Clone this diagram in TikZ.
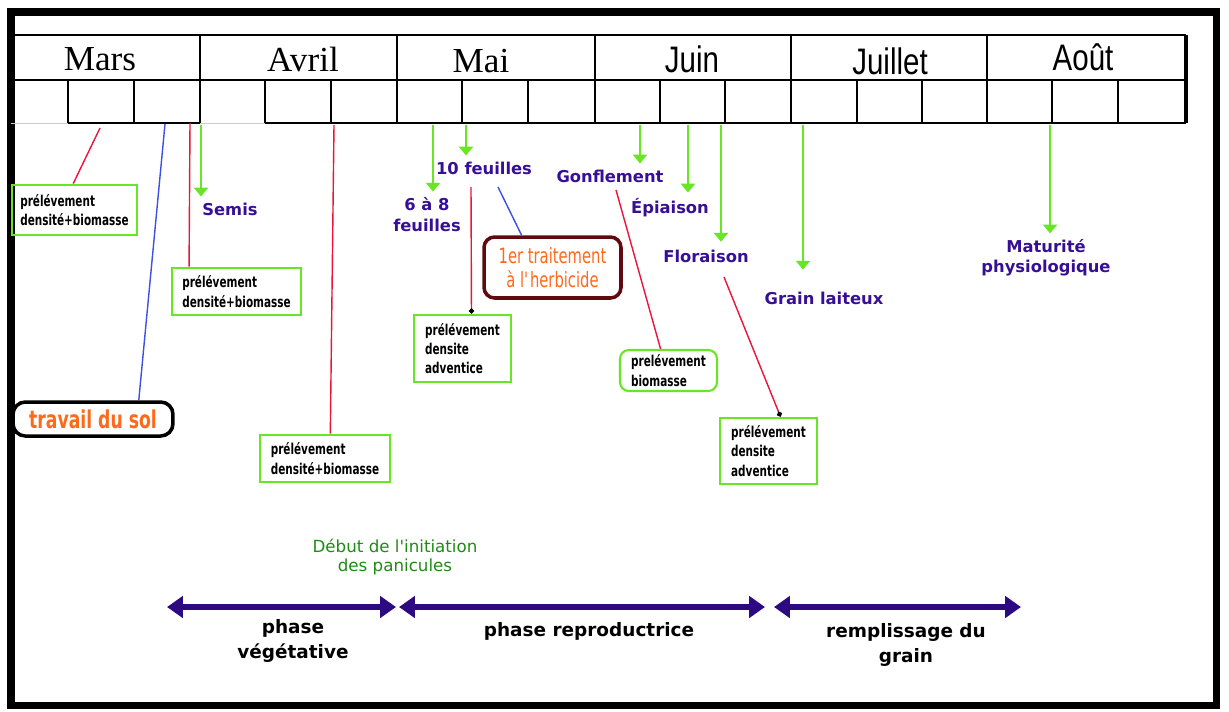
\documentclass[tikz,border=0pt]{standalone}
\usepackage{fontspec}
\setmainfont{DejaVu Sans}
\newfontfamily\serifmonth{Liberation Serif}
\newfontfamily\sansmonth{Liberation Sans}[FakeStretch=0.8]
\newfontfamily\boxfont{DejaVu Sans}[FakeStretch=0.7]
\usepackage{tikz}
\usetikzlibrary{arrows.meta,calc}

\definecolor{stagecol}{RGB}{55,15,150}
\definecolor{stemgreen}{RGB}{105,230,35}
\definecolor{linkred}{RGB}{235,20,60}
\definecolor{linkblue}{RGB}{60,80,230}
\definecolor{herbi}{RGB}{255,105,25}
\definecolor{herbiframe}{RGB}{95,10,15}
\definecolor{phasecol}{RGB}{45,10,130}
\definecolor{pangreen}{RGB}{30,140,20}

\tikzset{
  monthserif/.style={font=\serifmonth\fontsize{20}{24}\selectfont},
  monthsans/.style={font=\sansmonth\fontsize{21}{25}\selectfont},
  stage/.style={text=stagecol,font=\bfseries\fontsize{9.3}{11.5}\selectfont,align=center},
  stem/.style={draw=stemgreen,line width=1.1pt,-{Triangle[length=5pt,width=8pt]}},
  pbox/.style={draw=stemgreen,line width=1.6pt,align=left,inner sep=2pt,
    font=\boxfont\bfseries\fontsize{8.5}{11}\selectfont},
  redlink/.style={draw=linkred,line width=0.8pt},
  bluelink/.style={draw=linkblue,line width=0.8pt},
  phase/.style={draw=phasecol,line width=3.2pt,
    {Triangle[length=9pt,width=12pt]}-{Triangle[length=9pt,width=12pt]}},
  phaselbl/.style={font=\bfseries\fontsize{10.5}{14.5}\selectfont,align=center}
}

\begin{document}
\begin{tikzpicture}[x=0.02cm,y=-0.02cm,>=Stealth]
  \useasboundingbox (0,0) rectangle (1229,711);
  \draw[line width=4pt] (11,12) rectangle (1216,705);

  \draw[line width=1.6pt] (11,35) -- (1186,35);
  \draw[line width=1.1pt] (11,80) -- (1186,80);
  \draw[line width=1.1pt] (68,123) -- (200,123) (265,123) -- (1186,123);
  \draw[gray!40,line width=0.5pt] (11,123) -- (68,123) (200,123) -- (265,123);
  \foreach \x in {200,397,595,791,987}
    \draw[line width=1.1pt] (\x,35) -- (\x,123);
  \draw[line width=2.2pt] (1186,35) -- (1186,123);
  \foreach \x in {68,134,265,331,462,528,660,725,857,922,1052,1118}
    \draw[line width=1.1pt] (\x,80) -- (\x,123);

  \node[monthserif] (mars) at (100,59) {Mars};
  \node[monthserif] (avril) at (303,59) {Avril};
  \node[monthserif] (mai) at (481,61) {Mai};
  \node[monthsans] (juin) at (692,59) {Juin};
  \node[monthsans] (juillet) at (890,61) {Juillet};
  \node[monthsans] (aout) at (1083,57) {Août};

  \node[stage] (semis) at (230,209) {Semis};
  \node[stage,font=\bfseries\fontsize{9.3}{12}\selectfont] (sixhuit) at (427,215) {6 à 8\\feuilles};
  \node[stage] (dixf) at (484,168) {10 feuilles};
  \node[stage] (gonfl) at (610,176) {Gonflement};
  \node[stage] (epiai) at (670,208) {Épiaison};
  \node[stage] (flor) at (706,256) {Floraison};
  \node[stage] (grain) at (824,298) {Grain laiteux};
  \node[stage] (matur) at (1046,258) {Maturité\\physiologique};

  \coordinate (s1) at (201,125);
  \coordinate (s2) at (433,125);
  \coordinate (s3) at (466,125);
  \coordinate (s4) at (640,125);
  \coordinate (s5) at (688,125);
  \coordinate (s6) at (721,125);
  \coordinate (s7) at (803,125);
  \coordinate (s8) at (1050,125);
  \draw[stem] (s1) -- (s1 |- semis.north);
  \draw[stem] (s2) -- (s2 |- sixhuit.north);
  \draw[stem] (s3) -- (s3 |- dixf.north);
  \draw[stem] (s4) -- (s4 |- gonfl.north);
  \draw[stem] (s5) -- (s5 |- epiai.north);
  \draw[stem,shorten >=1pt] (s6) -- (s6 |- flor.north);
  \draw[stem,shorten >=9pt] (s7) -- (s7 |- grain.north);
  \draw[stem] (s8) -- (s8 |- matur.north);

  \node[pbox,minimum width=2.5cm,minimum height=1cm] (pA) at (74.5,210) {prélévement\\densité+biomasse};
  \node[pbox,minimum width=2.58cm,minimum height=0.94cm] (pB) at (236.5,291.5) {prélévement\\densité+biomasse};
  \node[pbox,minimum width=2.6cm,minimum height=0.94cm] (pC) at (325,458.5) {prélévement\\densité+biomasse};
  \node[pbox,minimum width=1.94cm,minimum height=1.34cm] (pD) at (462.5,348.5) {prélévement\\densite\\adventice};
  \node[pbox,rounded corners=5pt,line width=1.2pt,minimum width=1.94cm,minimum height=0.82cm] (pE) at (668.5,370.5) {prelévement\\biomasse};
  \node[pbox,minimum width=1.94cm,minimum height=1.32cm] (pF) at (768.5,451) {prélévement\\densite\\adventice};
  \node[draw=herbiframe,line width=2pt,rounded corners=6pt,text=herbi,align=center,
    font=\boxfont\fontsize{12}{13.5}\selectfont,minimum width=2.74cm,minimum height=1.22cm] (herb) at (552.5,267.5) {1er traitement\\à l\textquotesingle herbicide};
  \node[draw,line width=2pt,rounded corners=7pt,text=herbi,
    font=\boxfont\bfseries\fontsize{14}{16}\selectfont,minimum width=3.2cm,minimum height=0.68cm] (sol) at (93,419) {travail du sol};

  \coordinate (rA) at (100,128);
  \coordinate (rB) at (190,123);
  \coordinate (rC) at (334,125);
  \coordinate (rD) at (471,187);
  \coordinate (rE) at (616,190);
  \coordinate (rF) at (724,277);
  \coordinate (bG) at (498,187);
  \coordinate (bH) at (165,124);
  \draw[redlink] (rA) -- ($(pA.north west)!0.49!(pA.north east)$);
  \draw[redlink] (rB) -- ($(pB.north west)!0.14!(pB.north east)$);
  \draw[redlink] (rC) -- ($(pC.north west)!0.54!(pC.north east)$);
  \draw[redlink,-{Circle[length=3pt,color=black]}] (rD) -- ($(pD.north west)!0.59!(pD.north east)$);
  \draw[redlink] (rE) -- ($(pE.north west)!0.42!(pE.north east)$);
  \draw[redlink,-{Circle[length=3pt,color=black]}] (rF) -- ($(pF.north west)!0.62!(pF.north east)$);
  \draw[bluelink] (bG) -- ($(herb.north west)!0.28!(herb.north east)$);
  \draw[bluelink] (bH) -- ($(sol.north west)!0.78!(sol.north east)$);

  \node[text=pangreen,align=center,font=\fontsize{9.5}{10.8}\selectfont] (panic) at (395,557) {Début de l\textquotesingle initiation\\des panicules};

  \coordinate (v1) at (167,607);
  \coordinate (v2) at (396,607);
  \coordinate (r1) at (399,607);
  \coordinate (r2) at (765,607);
  \coordinate (g1) at (774,607);
  \coordinate (g2) at (1021,607);
  \draw[phase] (v1) -- (v2);
  \draw[phase] (r1) -- (r2);
  \draw[phase] (g1) -- (g2);
  \node[phaselbl] (veget) at (293,641) {phase\\végétative};
  \node[phaselbl] (repro) at (589,631) {phase reproductrice};
  \node[phaselbl] (rempl) at (906,645) {remplissage du\\grain};
\end{tikzpicture}
\end{document}
